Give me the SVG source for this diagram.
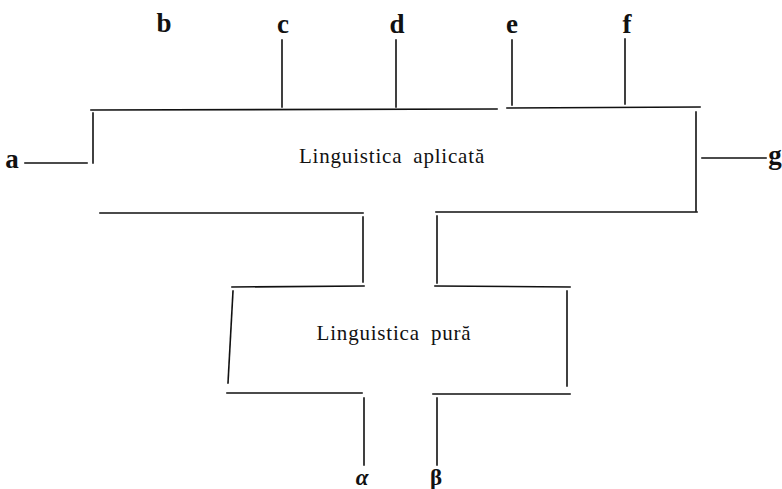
<svg xmlns="http://www.w3.org/2000/svg" width="782" height="489" viewBox="0 0 782 489">
<style>
.ln{stroke:#111;stroke-width:1.6;fill:none;stroke-linecap:square}
.lbl{font-family:"Liberation Serif",serif;font-weight:bold;font-size:27px;fill:#111;text-anchor:middle}
.gr{font-family:"Liberation Serif",serif;font-weight:bold;font-size:23px;fill:#111;text-anchor:middle}
.ttl{font-family:"Liberation Serif",serif;font-size:21px;fill:#111;text-anchor:middle;letter-spacing:0.8px;word-spacing:5px}
</style>
<rect width="782" height="489" fill="#fff"/>
<g id="applied">
<path class="ln" d="M91,110 L497,109 M507,108 L700,107"/>
<path class="ln" d="M93,113 L93,163"/>
<path class="ln" d="M696,112 L696,211"/>
<path class="ln" d="M100,213 L363,213 M436,212 L697,212"/>
<text class="ttl" x="392" y="163">Linguistica aplicată</text>
</g>
<g id="pure">
<path class="ln" d="M232,287 L364,286 M435,286 L570,287"/>
<path class="ln" d="M233,291 L228,383"/>
<path class="ln" d="M567,291 L567,386"/>
<path class="ln" d="M227,393 L362,393 M433,394 L570,394"/>
<text class="ttl" x="394" y="340">Linguistica pură</text>
</g>
<g id="connectors">
<path class="ln" d="M363,217 L363,282 M437,216 L437,283"/>
<path class="ln" d="M282,40 L282,107 M396,40 L396,107 M512,40 L512,105 M625,39 L625,104"/>
<path class="ln" d="M25,163 L87,163 M702,158 L766,158"/>
<path class="ln" d="M364,398 L364,465 M437,398 L437,465"/>
</g>
<g id="labels">
<text class="lbl" x="12" y="168">a</text>
<text class="lbl" x="164" y="32">b</text>
<text class="lbl" x="283" y="33">c</text>
<text class="lbl" x="397" y="33">d</text>
<text class="lbl" x="512" y="33">e</text>
<text class="lbl" x="627" y="33">f</text>
<text class="lbl" x="775" y="164">g</text>
<text class="gr" x="362" y="485" font-style="italic">α</text>
<text class="gr" x="436" y="485">β</text>
</g>
</svg>
